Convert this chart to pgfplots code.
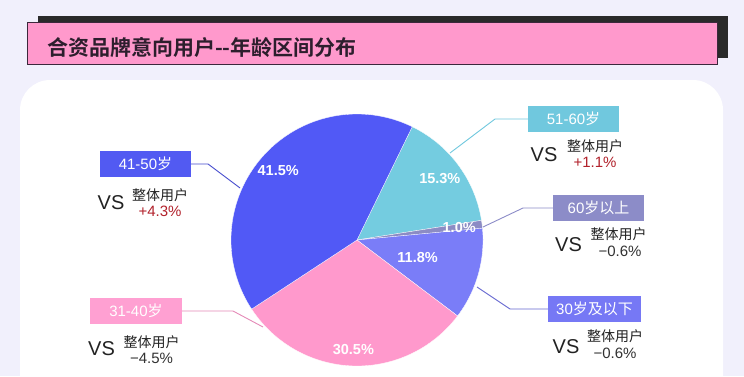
\documentclass[border=0pt]{standalone}
\usepackage{pgfplots}
\usepackage{pgfplotstable}
\pgfplotsset{compat=1.18}
\usepackage{fontspec}
\setmainfont{Liberation Sans}
\newfontfamily\cjk{Noto Sans CJK SC}[BoldFont={Noto Sans CJK SC Bold}]
\definecolor{bgc}{RGB}{241,240,252}
\definecolor{pinkH}{RGB}{255,153,204}
\definecolor{shadowc}{RGB}{42,42,42}
\definecolor{borderc}{RGB}{60,40,60}
\definecolor{titlec}{RGB}{45,30,45}
\definecolor{cBlue}{RGB}{81,89,246}
\definecolor{cCyan}{RGB}{116,204,224}
\definecolor{cGray}{RGB}{140,140,196}
\definecolor{cViolet}{RGB}{122,125,248}
\definecolor{cPink}{RGB}{255,153,204}
\definecolor{bBlue}{RGB}{82,90,242}
\definecolor{bPink}{RGB}{255,160,210}
\definecolor{bCyan}{RGB}{112,200,222}
\definecolor{bGray}{RGB}{140,140,200}
\definecolor{bViolet}{RGB}{118,120,245}
\definecolor{redv}{RGB}{178,34,44}
\definecolor{txt}{RGB}{34,34,34}
\definecolor{greyv}{RGB}{50,50,50}

\pgfplotstableread{
group value lr
A 15.3 103
B 1.0 103
C 11.8 63
D 30.5 110
E 41.5 105
}\piedata

\begin{document}
\begin{tikzpicture}[x=1bp,y=1bp]
\pgfplotstablegetelem{0}{value}\of\piedata\let\vA\pgfplotsretval
\pgfplotstablegetelem{1}{value}\of\piedata\let\vB\pgfplotsretval
\pgfplotstablegetelem{2}{value}\of\piedata\let\vC\pgfplotsretval
\pgfplotstablegetelem{3}{value}\of\piedata\let\vD\pgfplotsretval
\pgfplotstablegetelem{4}{value}\of\piedata\let\vE\pgfplotsretval
\pgfplotstablegetelem{0}{lr}\of\piedata\let\rA\pgfplotsretval
\pgfplotstablegetelem{1}{lr}\of\piedata\let\rB\pgfplotsretval
\pgfplotstablegetelem{2}{lr}\of\piedata\let\rC\pgfplotsretval
\pgfplotstablegetelem{3}{lr}\of\piedata\let\rD\pgfplotsretval
\pgfplotstablegetelem{4}{lr}\of\piedata\let\rE\pgfplotsretval
\pgfmathsetmacro\tot{\vA+\vB+\vC+\vD+\vE}
\pgfmathsetmacro\sc{360/\tot}
\def\aA{64}
\pgfmathsetmacro\aB{\aA-\vA*\sc}
\pgfmathsetmacro\aC{\aB-\vB*\sc}
\pgfmathsetmacro\aD{\aC-\vC*\sc}
\pgfmathsetmacro\aE{\aD-\vD*\sc}
\pgfmathsetmacro\aF{\aE-\vE*\sc}
\pgfmathsetmacro\mA{(\aA+\aB)/2}
\pgfmathsetmacro\mB{(\aB+\aC)/2}
\pgfmathsetmacro\mC{(\aC+\aD)/2}
\pgfmathsetmacro\mD{(\aD+\aE)/2}
\pgfmathsetmacro\mE{(\aE+\aF)/2}

\useasboundingbox (0,0) rectangle (744,376);
\clip (0,0) rectangle (744,376);
\fill[bgc] (0,0) rectangle (744,376);
% header
\fill[shadowc] (38,360) rectangle (728,318);
\filldraw[fill=pinkH, draw=borderc, line width=1bp] (27,353) rectangle (717,312);
\node[anchor=west, text=titlec, inner sep=0] at (47,329)
  {\fontsize{21bp}{24bp}\selectfont\cjk\bfseries 合资品牌意向用户-{}-年龄区间分布};
% panel
\fill[white, rounded corners=30bp] (20,296) rectangle (723,-60);

\tikzset{lab/.style={text=white, inner sep=0, font=\fontsize{15bp}{17bp}\selectfont},
  vs/.style={text=txt, inner sep=0, font=\fontsize{20bp}{22bp}\selectfont},
  zt/.style={text=txt, inner sep=0, font=\fontsize{14bp}{16bp}\selectfont\cjk},
  pv/.style={inner sep=0, font=\fontsize{15bp}{17bp}\selectfont}}

% 41-50
\draw[bBlue!85!black, line width=0.9bp] (191,212) -- (208,212) -- (240,188);
\fill[bBlue] (100,225) rectangle (191,199);
\node[lab] at (145.5,212) {41-50{\cjk 岁}};
\node[vs] at (111,173) {VS};
\node[zt] at (160,181) {整体用户};
\node[pv, text=redv] at (160,165) {+4.3\%};
% 31-40
\draw[cPink!90!black, line width=0.9bp] (182,65) -- (233,65) -- (263,49);
\fill[bPink] (90,78) rectangle (182,52);
\node[lab] at (136,65) {31-40{\cjk 岁}};
\node[vs] at (101.5,27) {VS};
\node[zt] at (151.5,34) {整体用户};
\node[pv, text=greyv] at (151.5,18) {−4.5\%};
% 51-60
\draw[bCyan, line width=0.9bp] (528,257) -- (495,257) -- (450,223);
\fill[bCyan] (528,270) rectangle (619,244);
\node[lab] at (573.5,257) {51-60{\cjk 岁}};
\node[vs] at (544,221) {VS};
\node[zt] at (595,230) {整体用户};
\node[pv, text=redv] at (595,214) {+1.1\%};
% 60+
\draw[bGray, line width=0.9bp] (553,168) -- (523,168) -- (483,149);
\fill[bGray] (553,181) rectangle (644,155);
\node[lab] at (598.5,168) {60{\cjk 岁以上}};
\node[vs] at (568.5,131) {VS};
\node[zt] at (618.5,142) {整体用户};
\node[pv, text=greyv] at (620,125) {−0.6\%};
% <=30
\draw[bViolet!85!black, line width=0.9bp] (548,67) -- (510,67) -- (477,89);
\fill[bViolet] (548,80) rectangle (641,54);
\node[lab] at (594.5,67) {30{\cjk 岁及以下}};
\node[vs] at (566,29.5) {VS};
\node[zt] at (615,40) {整体用户};
\node[pv, text=greyv] at (615,23) {−0.6\%};

\begin{axis}[at={(357,136)}, anchor=origin, x=1bp, y=1bp,
  xmin=-130, xmax=130, ymin=-130, ymax=130, hide axis, clip=false]
\addplot[fill=cCyan, draw=white, line width=0.3bp, domain=\aB:\aA, samples=60, variable=\t]
  ({126*cos(\t)},{126*sin(\t)}) -- (axis cs:0,0) -- cycle;
\addplot[fill=cGray, draw=white, line width=0.3bp, domain=\aC:\aB, samples=10, variable=\t]
  ({126*cos(\t)},{126*sin(\t)}) -- (axis cs:0,0) -- cycle;
\addplot[fill=cViolet, draw=white, line width=0.3bp, domain=\aD:\aC, samples=50, variable=\t]
  ({126*cos(\t)},{126*sin(\t)}) -- (axis cs:0,0) -- cycle;
\addplot[fill=cPink, draw=white, line width=0.3bp, domain=\aE:\aD, samples=100, variable=\t]
  ({126*cos(\t)},{126*sin(\t)}) -- (axis cs:0,0) -- cycle;
\addplot[fill=cBlue, draw=white, line width=0.3bp, domain=\aF:\aE, samples=130, variable=\t]
  ({126*cos(\t)},{126*sin(\t)}) -- (axis cs:0,0) -- cycle;
\tikzset{pl/.style={text=white, inner sep=0, font=\fontsize{14.5bp}{16bp}\selectfont\bfseries}}
\pgfkeys{/pgf/number format/.cd, fixed, precision=1, fixed zerofill, assume math mode=true}
\node[pl] at (axis cs:{\rA*cos(\mA)},{\rA*sin(\mA)}) {\pgfmathprintnumber{\vA}\%};
\node[pl] at (axis cs:{\rB*cos(\mB)},{\rB*sin(\mB)}) {\pgfmathprintnumber{\vB}\%};
\node[pl] at (axis cs:{\rC*cos(\mC)},{\rC*sin(\mC)}) {\pgfmathprintnumber{\vC}\%};
\node[pl] at (axis cs:{\rD*cos(\mD)},{\rD*sin(\mD)}) {\pgfmathprintnumber{\vD}\%};
\node[pl] at (axis cs:{\rE*cos(\mE)},{\rE*sin(\mE)}) {\pgfmathprintnumber{\vE}\%};
\end{axis}
\end{tikzpicture}
\end{document}
